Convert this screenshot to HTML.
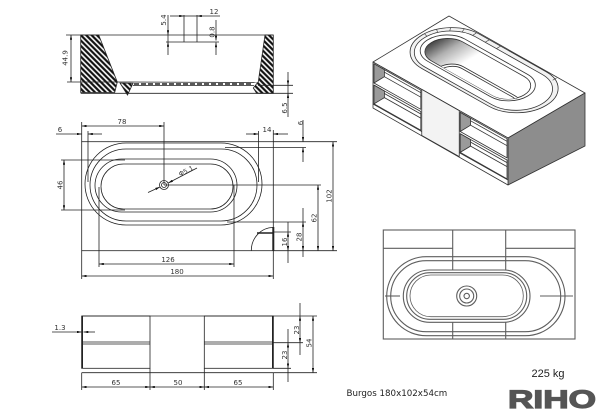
<!DOCTYPE html>
<html><head><meta charset="utf-8">
<style>
html,body{margin:0;padding:0;background:#fff}
svg{display:block}
.t *{vector-effect:non-scaling-stroke}
text{font-family:"DejaVu Sans","Liberation Sans",sans-serif;font-size:7px;fill:#333;stroke:none}
</style></head>
<body>
<svg width="600" height="412" viewBox="0 0 600 412" xmlns="http://www.w3.org/2000/svg">
<defs>
<marker id="m" viewBox="0 0 10 5" refX="10" refY="2.5" markerWidth="5" markerHeight="2.4" markerUnits="userSpaceOnUse" orient="auto-start-reverse"><path d="M0,0L10,2.5L0,5z" fill="#111"/></marker>
<pattern id="h" patternUnits="userSpaceOnUse" width="3.8" height="3.8" patternTransform="rotate(-45)"><rect width="3.8" height="3.8" fill="#fff"/><rect x="0.8" y="0" width="2.2" height="3.8" fill="#111"/></pattern>
<linearGradient id="g" gradientUnits="userSpaceOnUse" x1="18" y1="0" x2="64" y2="0"><stop offset="0" stop-color="#444"/><stop offset="0.45" stop-color="#b0b0b0"/><stop offset="1" stop-color="#fff"/></linearGradient>
<clipPath id="cd"><rect x="18.1" y="39" width="123.9" height="42.1" rx="21.05" ry="21.05"/></clipPath>
</defs>
<rect width="600" height="412" fill="#fff"/>

<!-- SECTION VIEW -->
<g stroke="#222" stroke-width="0.8" fill="none">
<polygon points="80.7,35 98.7,35 117.3,82 114.7,92.5 80.7,92.5" fill="url(#h)"/>
<polygon points="120,83 133,83.3 127.5,95" fill="url(#h)"/>
<polygon points="265,35 273.3,35 273.3,93.3 256.7,93.3 253.3,88 258.3,81.7" fill="url(#h)"/>
<line x1="66" y1="35" x2="273.3" y2="35"/>
<line x1="80.7" y1="93.3" x2="293" y2="93.3"/>
<line x1="67" y1="82" x2="118.3" y2="82"/>
<line x1="118" y1="82" x2="258" y2="82.5"/>
<line x1="133" y1="85.5" x2="254" y2="85.5"/>
<line x1="134" y1="84" x2="252" y2="84" stroke-width="1.4" stroke-dasharray="5 2"/>
<line x1="71" y1="35" x2="71" y2="82" marker-start="url(#m)" marker-end="url(#m)"/>
<line x1="168" y1="15" x2="168" y2="35" marker-end="url(#m)"/>
<line x1="168" y1="55" x2="168" y2="42" marker-end="url(#m)"/>
<line x1="168" y1="35" x2="168" y2="42"/>
<line x1="170" y1="16" x2="184" y2="16" marker-end="url(#m)"/>
<line x1="220" y1="16" x2="197" y2="16" marker-end="url(#m)"/>
<line x1="184" y1="16" x2="197" y2="16"/>
<line x1="184" y1="15" x2="184" y2="42"/>
<line x1="197" y1="15" x2="197" y2="42"/>
<line x1="166" y1="42" x2="219" y2="42"/>
<line x1="216" y1="20" x2="216" y2="40.5" marker-end="url(#m)"/>
<line x1="216" y1="55" x2="216" y2="42.5" marker-end="url(#m)"/>
<line x1="258" y1="85.3" x2="293" y2="85.3"/>
<line x1="288" y1="72" x2="288" y2="85.3" marker-end="url(#m)"/>
<line x1="288" y1="117" x2="288" y2="93.3" marker-end="url(#m)"/>
<line x1="288" y1="85.3" x2="288" y2="93.3"/>
</g>
<text transform="translate(67.5,58) rotate(-90)" text-anchor="middle">44.9</text>
<text transform="translate(166,20) rotate(-90)" text-anchor="middle">5.4</text>
<text x="214" y="14" text-anchor="middle">12</text>
<text transform="translate(214.5,32) rotate(-90)" text-anchor="middle">0.8</text>
<text transform="translate(287,108) rotate(-90)" text-anchor="middle">6.5</text>

<!-- PLAN VIEW 1 -->
<g stroke="#222" stroke-width="0.8" fill="none">
<rect x="81.7" y="141.7" width="191.6" height="109"/>
<rect x="85" y="143" width="177" height="82" rx="41"/>
<rect x="90" y="149" width="167" height="72" rx="36"/>
<rect x="95" y="159" width="142" height="53" rx="26.5"/>
<rect x="101" y="164" width="132" height="45" rx="22.5"/>
<circle cx="164" cy="185" r="4.5"/>
<circle cx="164" cy="185" r="2.5"/>
<line x1="148" y1="192.5" x2="160" y2="187" marker-end="url(#m)"/>
<line x1="197" y1="168" x2="168.2" y2="183" marker-end="url(#m)"/>
<line x1="81.7" y1="126" x2="164" y2="126" marker-start="url(#m)" marker-end="url(#m)"/>
<line x1="81.7" y1="122" x2="81.7" y2="141.7"/>
<line x1="164" y1="122" x2="164" y2="185"/>
<line x1="88" y1="131" x2="88" y2="182"/>
<line x1="56" y1="134" x2="81.7" y2="134" marker-end="url(#m)"/>
<line x1="102" y1="134" x2="88" y2="134" marker-end="url(#m)"/>
<line x1="258.5" y1="131" x2="258.5" y2="182"/>
<line x1="273.3" y1="130" x2="273.3" y2="141.7"/>
<line x1="246" y1="134" x2="258.5" y2="134" marker-end="url(#m)"/>
<line x1="288" y1="134" x2="273.3" y2="134" marker-end="url(#m)"/>
<line x1="273.3" y1="141.7" x2="337" y2="141.7"/>
<line x1="225" y1="147.5" x2="306" y2="147.5"/>
<line x1="303" y1="120" x2="303" y2="141.7" marker-end="url(#m)"/>
<line x1="303" y1="162" x2="303" y2="147.5" marker-end="url(#m)"/>
<line x1="333" y1="141.7" x2="333" y2="250.7" marker-start="url(#m)" marker-end="url(#m)"/>
<line x1="273.3" y1="250.7" x2="337" y2="250.7"/>
<line x1="164" y1="185" x2="321" y2="185"/>
<line x1="318" y1="185" x2="318" y2="250.7" marker-start="url(#m)" marker-end="url(#m)"/>
<line x1="227" y1="222" x2="306" y2="222"/>
<line x1="303" y1="222" x2="303" y2="250.7" marker-start="url(#m)" marker-end="url(#m)"/>
<line x1="303" y1="208" x2="303" y2="222"/>
<line x1="303" y1="250.7" x2="303" y2="257"/>
<line x1="273.3" y1="232" x2="291" y2="232"/>
<line x1="288" y1="232" x2="288" y2="250.7" marker-start="url(#m)" marker-end="url(#m)"/>
<line x1="288" y1="222" x2="288" y2="232"/>
<line x1="288" y1="250.7" x2="288" y2="263"/>
<line x1="99" y1="187" x2="99" y2="267"/>
<line x1="234" y1="185" x2="234" y2="267"/>
<line x1="99" y1="264" x2="234" y2="264" marker-start="url(#m)" marker-end="url(#m)"/>
<line x1="81.7" y1="250.7" x2="81.7" y2="279"/>
<line x1="273.3" y1="250.7" x2="273.3" y2="279"/>
<line x1="81.7" y1="276" x2="273.3" y2="276" marker-start="url(#m)" marker-end="url(#m)"/>
<line x1="61" y1="160" x2="125" y2="160"/>
<line x1="61" y1="210" x2="125" y2="210"/>
<line x1="64" y1="160" x2="64" y2="210" marker-start="url(#m)" marker-end="url(#m)"/>
<path d="M251.3,250.7 A22,23 0 0 1 273.3,227.5"/>
<line x1="273.3" y1="227" x2="273.3" y2="250.7" stroke-width="2"/>
<line x1="257" y1="233" x2="273.3" y2="233" stroke-width="1.5"/>
</g>
<text x="122" y="124" text-anchor="middle">78</text>
<text x="60" y="132" text-anchor="middle">6</text>
<text x="267" y="132" text-anchor="middle">14</text>
<text transform="translate(303,123) rotate(-90)" text-anchor="middle">6</text>
<text transform="translate(187,173) rotate(-27)" text-anchor="middle" style="font-size:6.5px">Φ5.1</text>
<text transform="translate(62.5,185) rotate(-90)" text-anchor="middle">46</text>
<text transform="translate(331.5,196) rotate(-90)" text-anchor="middle">102</text>
<text transform="translate(316.5,218) rotate(-90)" text-anchor="middle">62</text>
<text transform="translate(301.5,237) rotate(-90)" text-anchor="middle">28</text>
<text transform="translate(287,242) rotate(-90)" text-anchor="middle">16</text>
<text x="168" y="262" text-anchor="middle">126</text>
<text x="177" y="274" text-anchor="middle">180</text>

<!-- FRONT ELEVATION -->
<g stroke="#222" stroke-width="0.8" fill="none">
<line x1="81.7" y1="316" x2="273.3" y2="316"/>
<line x1="81.7" y1="372.7" x2="273.3" y2="372.7"/>
<rect x="81.7" y="316" width="68.3" height="52.3"/>
<rect x="204.3" y="316" width="69" height="52.3"/>
<line x1="81.7" y1="342" x2="150" y2="342"/>
<line x1="81.7" y1="344" x2="150" y2="344"/>
<line x1="204.3" y1="342" x2="273.3" y2="342"/>
<line x1="204.3" y1="344" x2="273.3" y2="344"/>
<line x1="82.2" y1="316" x2="82.2" y2="368.3" stroke-width="1.6"/>
<line x1="272.8" y1="316" x2="272.8" y2="368.3" stroke-width="1.6"/>
<line x1="81.7" y1="372.7" x2="81.7" y2="390"/>
<line x1="150" y1="368.3" x2="150" y2="390"/>
<line x1="204.3" y1="368.3" x2="204.3" y2="390"/>
<line x1="273.3" y1="372.7" x2="273.3" y2="390"/>
<line x1="81.7" y1="387" x2="150" y2="387" marker-start="url(#m)" marker-end="url(#m)"/>
<line x1="150" y1="387" x2="204.3" y2="387" marker-start="url(#m)" marker-end="url(#m)"/>
<line x1="204.3" y1="387" x2="273.3" y2="387" marker-start="url(#m)" marker-end="url(#m)"/>
<line x1="52" y1="332" x2="81.7" y2="332" marker-end="url(#m)"/>
<line x1="95" y1="332" x2="83.5" y2="332" marker-end="url(#m)"/>
<line x1="273.3" y1="316" x2="317" y2="316"/>
<line x1="273.3" y1="342.7" x2="303" y2="342.7"/>
<line x1="273.3" y1="368.3" x2="291" y2="368.3"/>
<line x1="273.3" y1="372.7" x2="317" y2="372.7"/>
<line x1="300" y1="316" x2="300" y2="342.7" marker-start="url(#m)" marker-end="url(#m)"/>
<line x1="300" y1="303" x2="300" y2="316"/>
<line x1="300" y1="342.7" x2="300" y2="355"/>
<line x1="288" y1="342.7" x2="288" y2="368.3" marker-start="url(#m)" marker-end="url(#m)"/>
<line x1="288" y1="329" x2="288" y2="342.7"/>
<line x1="288" y1="368.3" x2="288" y2="382"/>
<line x1="313" y1="316" x2="313" y2="372.7" marker-start="url(#m)" marker-end="url(#m)"/>
</g>
<text x="60" y="330" text-anchor="middle">1.3</text>
<text x="116" y="385" text-anchor="middle">65</text>
<text x="178" y="385" text-anchor="middle">50</text>
<text x="238" y="385" text-anchor="middle">65</text>
<text transform="translate(299,330) rotate(-90)" text-anchor="middle">23</text>
<text transform="translate(287,355) rotate(-90)" text-anchor="middle">23</text>
<text transform="translate(311.5,343) rotate(-90)" text-anchor="middle">54</text>

<!-- ISOMETRIC -->
<g stroke="#333" stroke-width="0.8" stroke-linejoin="round">
<polygon points="373,62 449,16 585,93 508,138" fill="#fff"/>
<polygon points="508,138 585,93 585,146 508,185" fill="#8d8d8d"/>
<polygon points="373,62 508,138 508,185 373,108" fill="#fff"/>
<polygon points="421.75,89.4 459.25,110.6 459.25,156.6 421.75,135.5" fill="#f3f3f3"/>
<line x1="373" y1="104" x2="421.75" y2="131.5"/>
<line x1="459.25" y1="152.6" x2="508" y2="180"/>
<polygon points="374,63.8 420.8,90.2 420.8,109.3 374,83" fill="#fff"/>
<polygon points="374,63.8 384.4,69.7 384.4,76.7 374,83" fill="#9a9a9a"/>
<line x1="384.4" y1="76.7" x2="420.8" y2="97.2"/>
<line x1="384.4" y1="72.2" x2="420.8" y2="92.7"/>
<polygon points="374,85.1 420.8,111.5 420.8,130.2 374,103.9" fill="#fff"/>
<polygon points="374,85.1 384.4,91 384.4,97.6 374,103.9" fill="#9a9a9a"/>
<line x1="384.4" y1="97.6" x2="420.8" y2="118.1"/>
<line x1="384.4" y1="93.5" x2="420.8" y2="114"/>
<polygon points="460.2,112.4 507,138.7 507,157.9 460.2,131.5" fill="#fff"/>
<polygon points="460.2,112.4 470.6,118.3 470.6,125.2 460.2,131.5" fill="#9a9a9a"/>
<line x1="470.6" y1="125.2" x2="507" y2="145.7"/>
<line x1="470.6" y1="120.8" x2="507" y2="141.3"/>
<polygon points="460.2,133.7 507,160 507,178.8 460.2,152.4" fill="#fff"/>
<polygon points="460.2,133.7 470.6,139.6 470.6,146.1 460.2,152.4" fill="#9a9a9a"/>
<line x1="470.6" y1="146.1" x2="507" y2="166.6"/>
<line x1="470.6" y1="142.1" x2="507" y2="162.6"/>
</g>
<g class="t" transform="matrix(0.75,0.4222,0.745,-0.451,373,62)" stroke="#333" stroke-width="0.8">
<rect x="3.1" y="24.1" width="166" height="76.7" rx="38.35" ry="38.35" fill="#f2f2f2"/>
<rect x="7.8" y="27.8" width="156.7" height="67.4" rx="33.7" ry="33.7" fill="#fff"/>
<rect x="12.5" y="36.2" width="133.2" height="49.6" rx="24.8" ry="24.8" fill="#fff"/>
<rect x="18.1" y="39" width="123.9" height="42.1" rx="21.05" ry="21.05" fill="url(#g)"/>
<g clip-path="url(#cd)">
<g transform="translate(22.82,-22.98)">
<rect x="29" y="44" width="101" height="32" rx="16" ry="16" fill="#fff"/>
<rect x="33" y="47" width="93" height="26" rx="13" ry="13" fill="none"/>
</g>
</g>
<g fill="none" stroke-width="0.6">
<line x1="38.56" y1="95.07" x2="38.11" y2="100.65"/>
<line x1="27.26" y1="92.04" x2="25.24" y2="97.21"/>
<line x1="17.67" y1="85.33" x2="14.33" y2="89.57"/>
<line x1="10.96" y1="75.74" x2="6.69" y2="78.66"/>
<line x1="7.93" y1="64.44" x2="3.24" y2="65.79"/>
<line x1="55" y1="95.2" x2="55" y2="100.8"/>
<line x1="70" y1="95.2" x2="70" y2="100.8"/>
<line x1="145" y1="95.2" x2="145" y2="100.5"/>
</g>
</g>

<!-- PLAN VIEW 2 -->
<g stroke="#5e5e5e" stroke-width="1.1" fill="none">
<rect x="383.3" y="230" width="191.7" height="109"/>
<line x1="452.7" y1="230" x2="452.7" y2="270"/>
<line x1="505.7" y1="230" x2="505.7" y2="270"/>
<line x1="452.7" y1="322" x2="452.7" y2="339"/>
<line x1="505.7" y1="322" x2="505.7" y2="339"/>
<line x1="383.3" y1="248.3" x2="452.7" y2="248.3"/>
<line x1="505.7" y1="248.3" x2="575" y2="248.3"/>
<rect x="386.7" y="256.7" width="178.3" height="79" rx="39.5"/>
<rect x="390.7" y="260.7" width="170" height="71" rx="35.5"/>
<rect x="403.3" y="270" width="126.7" height="52.3" rx="26.2"/>
<rect x="406.7" y="272.7" width="120" height="46.6" rx="23.3"/>
<rect x="410" y="275" width="113.3" height="41.7" rx="20.8" stroke-width="0.8"/>
<line x1="385" y1="296" x2="400" y2="296"/>
<line x1="540" y1="296" x2="573" y2="296"/>
<circle cx="466.7" cy="296" r="10"/>
<circle cx="466.7" cy="296" r="7"/>
<circle cx="466.7" cy="296" r="2.7"/>
</g>

<!-- TEXT -->
<text x="531.5" y="377" style="font-family:'Liberation Sans',sans-serif;font-size:11px;fill:#222">225 kg</text>
<text x="346.5" y="396" style="font-family:'DejaVu Sans',sans-serif;font-size:8.7px;fill:#222">Burgos 180x102x54cm</text>
<text x="508" y="408" textLength="88" lengthAdjust="spacingAndGlyphs" style="font-family:'Liberation Sans',sans-serif;font-weight:bold;font-size:25px;fill:#555;stroke:#555;stroke-width:1.2">RIHO</text>
</svg>
</body></html>
